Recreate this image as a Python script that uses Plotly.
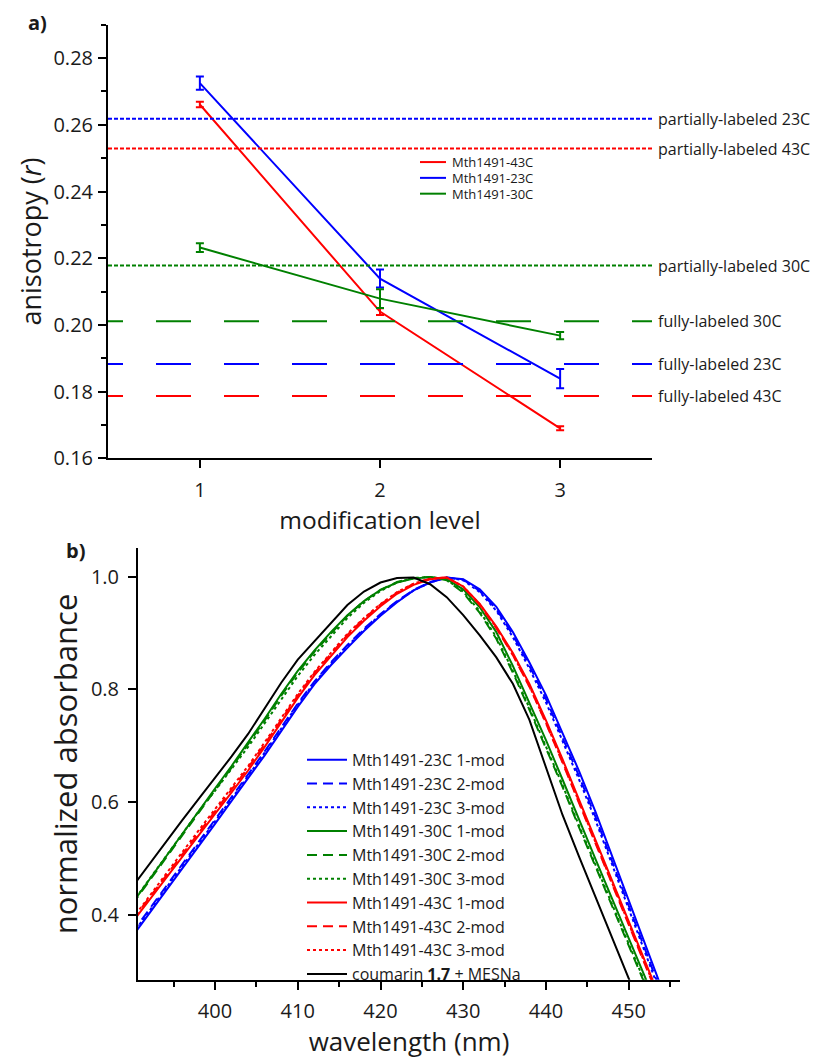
import plotly.graph_objects as go

# ---------------- panel a data ----------------
levels = [1, 2, 3]
series_a_names = ["Mth1491-43C", "Mth1491-23C", "Mth1491-30C"]
series_a_colors = ["#ff0000", "#0000ff", "#008000"]
r_43C = [0.2661, 0.2040, 0.1690]
e_43C = [0.0008, 0.0010, 0.0006]
r_23C = [0.2725, 0.2139, 0.1839]
e_23C = [0.0020, 0.0027, 0.0029]
r_30C = [0.2232, 0.2079, 0.1968]
e_30C = [0.0013, 0.0028, 0.0011]

ref_names = ["partially-labeled 23C", "partially-labeled 43C", "partially-labeled 30C",
             "fully-labeled 30C", "fully-labeled 23C", "fully-labeled 43C"]
ref_values = [0.2618, 0.2529, 0.2178, 0.2011, 0.1883, 0.1787]
ref_colors = ["#0000ff", "#ff0000", "#008000", "#008000", "#0000ff", "#ff0000"]
ref_kind = ["partial", "partial", "partial", "full", "full", "full"]

# ---------------- panel b data ----------------
wavelength = [390, 392, 394, 396, 398, 400, 402, 404, 406, 408, 410, 412, 414, 416, 418,
              420, 422, 424, 426, 428, 430, 432, 434, 436, 438, 440, 442, 444, 446, 448,
              450, 452, 454, 456]

abs_coumarin = [0.449, 0.489, 0.528, 0.567, 0.605, 0.642, 0.681, 0.721, 0.766, 0.812, 0.853,
                0.885, 0.918, 0.950, 0.974, 0.990, 0.998, 0.999, 0.987, 0.964, 0.932, 0.896,
                0.857, 0.810, 0.746, 0.660, 0.577, 0.503, 0.430, 0.357, 0.284, 0.210, 0.140, 0.070]

abs_30C_1 = [0.420, 0.461, 0.502, 0.543, 0.585, 0.624, 0.664, 0.705, 0.748, 0.792, 0.833,
             0.869, 0.902, 0.932, 0.957, 0.977, 0.990, 0.997, 1.000, 0.996, 0.978, 0.946,
             0.902, 0.842, 0.776, 0.710, 0.640, 0.568, 0.498, 0.428, 0.358, 0.288, 0.218, 0.148]
abs_30C_2 = [0.418, 0.459, 0.500, 0.541, 0.582, 0.621, 0.661, 0.702, 0.745, 0.789, 0.830,
             0.867, 0.900, 0.931, 0.957, 0.977, 0.991, 0.998, 1.000, 0.994, 0.972, 0.936,
             0.890, 0.830, 0.764, 0.697, 0.627, 0.555, 0.485, 0.415, 0.345, 0.275, 0.205, 0.135]
abs_30C_3 = [0.421, 0.462, 0.502, 0.542, 0.583, 0.620, 0.658, 0.698, 0.740, 0.783, 0.824,
             0.861, 0.895, 0.927, 0.954, 0.975, 0.990, 0.998, 1.000, 0.995, 0.974, 0.939,
             0.893, 0.833, 0.767, 0.700, 0.630, 0.558, 0.488, 0.418, 0.348, 0.278, 0.208, 0.138]

abs_43C_1 = [0.386, 0.425, 0.463, 0.502, 0.541, 0.579, 0.617, 0.656, 0.698, 0.742, 0.785,
             0.825, 0.860, 0.893, 0.922, 0.948, 0.970, 0.986, 0.996, 0.999, 0.983, 0.952,
             0.912, 0.865, 0.810, 0.745, 0.676, 0.604, 0.532, 0.460, 0.388, 0.316, 0.244, 0.172]
abs_43C_2 = [0.390, 0.429, 0.468, 0.507, 0.546, 0.584, 0.622, 0.661, 0.703, 0.747, 0.789,
             0.829, 0.864, 0.897, 0.926, 0.951, 0.972, 0.988, 0.997, 0.999, 0.982, 0.950,
             0.909, 0.861, 0.805, 0.740, 0.670, 0.598, 0.526, 0.454, 0.382, 0.310, 0.238, 0.166]
abs_43C_3 = [0.392, 0.432, 0.471, 0.510, 0.549, 0.587, 0.625, 0.664, 0.706, 0.750, 0.792,
             0.831, 0.866, 0.899, 0.927, 0.952, 0.973, 0.988, 0.997, 0.999, 0.983, 0.951,
             0.910, 0.862, 0.806, 0.741, 0.672, 0.600, 0.528, 0.456, 0.384, 0.312, 0.240, 0.168]

abs_23C_1 = [0.361, 0.401, 0.440, 0.479, 0.519, 0.561, 0.602, 0.642, 0.683, 0.726, 0.769,
             0.809, 0.843, 0.874, 0.904, 0.931, 0.955, 0.976, 0.990, 0.999, 0.996, 0.978,
             0.947, 0.902, 0.848, 0.790, 0.724, 0.655, 0.582, 0.504, 0.425, 0.347, 0.268, 0.190]
abs_23C_2 = [0.368, 0.408, 0.448, 0.487, 0.527, 0.568, 0.609, 0.649, 0.690, 0.733, 0.775,
             0.814, 0.848, 0.879, 0.908, 0.934, 0.957, 0.977, 0.991, 0.999, 0.995, 0.975,
             0.943, 0.897, 0.842, 0.783, 0.716, 0.646, 0.573, 0.494, 0.415, 0.337, 0.258, 0.180]
abs_23C_3 = [0.365, 0.405, 0.445, 0.484, 0.524, 0.565, 0.606, 0.646, 0.688, 0.731, 0.773,
             0.812, 0.846, 0.877, 0.906, 0.933, 0.956, 0.976, 0.990, 0.999, 0.994, 0.973,
             0.940, 0.893, 0.837, 0.777, 0.710, 0.640, 0.567, 0.489, 0.410, 0.332, 0.253, 0.175]

spectra = [
    ("Mth1491-23C 1-mod", abs_23C_1, "#0000ff", "solid"),
    ("Mth1491-23C 2-mod", abs_23C_2, "#0000ff", "10px,6px"),
    ("Mth1491-23C 3-mod", abs_23C_3, "#0000ff", "dot"),
    ("Mth1491-30C 1-mod", abs_30C_1, "#008000", "solid"),
    ("Mth1491-30C 2-mod", abs_30C_2, "#008000", "10px,6px"),
    ("Mth1491-30C 3-mod", abs_30C_3, "#008000", "dot"),
    ("Mth1491-43C 1-mod", abs_43C_1, "#ff0000", "solid"),
    ("Mth1491-43C 2-mod", abs_43C_2, "#ff0000", "10px,6px"),
    ("Mth1491-43C 3-mod", abs_43C_3, "#ff0000", "dot"),
    ("coumarin <b>1.7</b> + MESNa", abs_coumarin, "#000000", "solid"),
]

FONT = "Open Sans"
TXT = "#1a1a1a"
# the page body adds an 8 px margin; the figure fills the rest of the window
OFF = 8
W, H = 819 - OFF, 1059 - OFF


def fx(X):
    return (X - OFF) / W


def fy(Y):
    return 1 - (Y - OFF) / H


fig = go.Figure()

# panel a traces
for name, vals, errs, col in zip(series_a_names, [r_43C, r_23C, r_30C],
                                 [e_43C, e_23C, e_30C], series_a_colors):
    fig.add_trace(go.Scatter(
        x=levels, y=vals, mode="lines", name=name, showlegend=False,
        line=dict(color=col, width=2),
        error_y=dict(type="data", array=errs, visible=True, color=col, thickness=2, width=4),
        xaxis="x", yaxis="y"))

# compact key for panel a (rows 16 px apart, as in the original)
for i, (name, col) in enumerate(zip(series_a_names, series_a_colors)):
    yrow = 164 + 16 * i
    fig.add_shape(type="line", xref="paper", yref="paper", x0=fx(420), x1=fx(446),
                  y0=fy(yrow), y1=fy(yrow), line=dict(color=col, width=2))
    fig.add_annotation(x=fx(450), y=fy(yrow), xref="paper", yref="paper", text=name,
                       showarrow=False, xanchor="left", yanchor="middle",
                       font=dict(family=FONT, size=13, color=TXT))

# reference lines panel a
long_dash = "15px,33px," + ",".join(["35px,33px"] * 8)
for nm, v, c, k in zip(ref_names, ref_values, ref_colors, ref_kind):
    dash = "4px,2px" if k == "partial" else long_dash
    fig.add_shape(type="line", xref="x domain", yref="y", x0=0, x1=1, y0=v, y1=v,
                  line=dict(color=c, width=2, dash=dash))
    fig.add_annotation(x=fx(656), xref="paper", y=v, yref="y", text=nm, showarrow=False,
                       xanchor="left", yanchor="middle",
                       font=dict(family=FONT, size=16, color=TXT))

# panel b traces
for name, vals, col, dash in spectra:
    fig.add_trace(go.Scatter(
        x=wavelength, y=vals, mode="lines", name=name,
        line=dict(color=col, width=2, dash=dash),
        xaxis="x2", yaxis="y2", legend="legend2"))

axis_common = dict(showline=True, linewidth=2, linecolor="black", ticks="outside",
                   tickwidth=2, ticklen=8, tickcolor="black", showgrid=False,
                   zeroline=False, mirror=False,
                   tickfont=dict(family=FONT, size=20, color=TXT))

fig.update_layout(
    width=W, height=H,
    margin=dict(l=0, r=0, t=0, b=0),
    paper_bgcolor="white", plot_bgcolor="white",
    font=dict(family=FONT, color=TXT),
    xaxis=dict(domain=[fx(108), fx(652)], range=[0.49, 3.51], tickvals=levels,
               anchor="y", ticklabelstandoff=5,
               title=dict(text="modification level", font=dict(family=FONT, size=24.5, color=TXT),
                          standoff=5),
               **axis_common),
    yaxis=dict(domain=[fy(464), fy(25)], range=[0.16, 0.29], dtick=0.02, tick0=0.16,
               tickformat=".2f", anchor="x", ticklabelstandoff=1,
               minor=dict(dtick=0.01, ticks="outside", ticklen=5, tickwidth=2, tickcolor="black"),
               title=dict(text="anisotropy (<i>r</i>)", font=dict(family=FONT, size=27, color=TXT),
                          standoff=4),
               **axis_common),
    xaxis2=dict(domain=[fx(138), fx(680)], range=[390.69, 456.2], dtick=10, tick0=400,
                anchor="y2", ticklabelstandoff=4,
                minor=dict(dtick=5, ticks="outside", ticklen=5, tickwidth=2, tickcolor="black"),
                title=dict(text="wavelength (nm)", font=dict(family=FONT, size=26, color=TXT),
                           standoff=6),
                **axis_common),
    yaxis2=dict(domain=[fy(992), fy(555)], range=[0.284, 1.051],
                tickvals=[0.4, 0.6, 0.8, 1.0], tickformat=".1f", anchor="x2",
                ticklabelstandoff=5,
                title=dict(text="normalized absorbance", font=dict(family=FONT, size=31, color=TXT),
                           standoff=4),
                **axis_common),
    legend2=dict(x=fx(302), y=fy(752), xanchor="left", yanchor="top",
                 bgcolor="rgba(0,0,0,0)", font=dict(family=FONT, size=16, color=TXT),
                 tracegroupgap=0, itemwidth=40),
    showlegend=True,
)

fig.add_annotation(x=fx(26), y=fy(23), xref="paper", yref="paper", text="<b>a)</b>",
                   showarrow=False, xanchor="left", yanchor="middle",
                   font=dict(family=FONT, size=20, color=TXT))
fig.add_annotation(x=fx(64), y=fy(557), xref="paper", yref="paper", text="<b>b)</b>",
                   showarrow=False, xanchor="left", yanchor="middle",
                   font=dict(family=FONT, size=20, color=TXT))

fig.write_html("out.html")
